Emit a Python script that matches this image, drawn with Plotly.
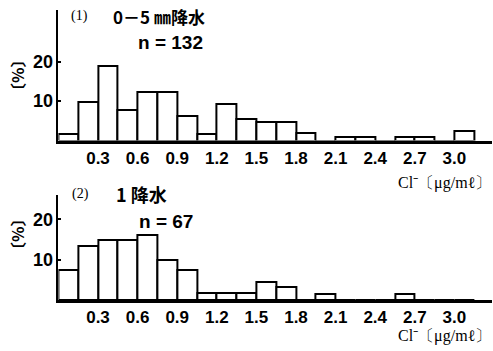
import plotly.graph_objects as go

W, H = 493, 351
bin_width = 0.15
# percentages per 0.15 µg/ml bin, starting at 0
top_pct = [1.7, 9.7, 19.0, 7.8, 12.2, 12.2, 6.2, 1.7, 9.3, 5.4, 4.7, 4.7, 1.9, 0, 1.0, 1.0, 0, 1.0, 1.0, 0, 2.5]
bot_pct = [7.4, 13.4, 14.9, 14.9, 16.2, 9.9, 7.4, 1.8, 1.8, 1.8, 4.5, 3.1, 0, 1.6, 0, 0, 0, 1.4, 0, 0, 0]
x_ticks = [0.3, 0.6, 0.9, 1.2, 1.5, 1.8, 2.1, 2.4, 2.7, 3.0]
x_labels = ["0.3", "0.6", "0.9", "1.2", "1.5", "1.8", "2.1", "2.4", "2.7", "3.0"]
y_ticks = [10, 20]

def centers(vals):
    return [bin_width * (i + 0.5) for i in range(len(vals))]

fig = go.Figure()
bar_style = dict(marker=dict(color="white", line=dict(color="black", width=2)),
                 width=bin_width, showlegend=False, hoverinfo="skip")
fig.add_trace(go.Bar(x=centers(top_pct), y=top_pct, xaxis="x", yaxis="y", **bar_style))
fig.add_trace(go.Bar(x=centers(bot_pct), y=bot_pct, xaxis="x2", yaxis="y2", **bar_style))

px0, px1 = 58.4, 492.0
xr = [0, (px1 - px0) / 132.0]
xdom = [px0 / W, px1 / W]
tickfont = dict(family="Liberation Sans", size=17, color="black", weight="bold")
xcommon = dict(range=xr, domain=xdom, tickvals=x_ticks, ticktext=x_labels, showline=True,
               linecolor="black", linewidth=2.5, showgrid=False, zeroline=False, ticks="",
               tickfont=tickfont, ticklabelstandoff=0, fixedrange=True)
ycommon = dict(tickvals=y_ticks, showline=True, linecolor="black", linewidth=1.5, showgrid=False,
               zeroline=False, ticks="inside", ticklen=3, tickcolor="black", tickwidth=1.5,
               tickfont=dict(family="Liberation Sans", size=18, color="black", weight="bold"),
               fixedrange=True)

fig.update_layout(
    width=W, height=H, margin=dict(l=0, r=0, t=0, b=0),
    paper_bgcolor="white", plot_bgcolor="white", bargap=0,
    xaxis=dict(anchor="y", **xcommon),
    yaxis=dict(anchor="x", domain=[1 - 140.5 / H, 1 - 10 / H], range=[0, 33.1], **ycommon),
    xaxis2=dict(anchor="y2", **xcommon),
    yaxis2=dict(anchor="x2", domain=[1 - 300 / H, 1 - 195 / H], range=[0, 26.0], **ycommon),
)

def ann(text, x, y, size, family="Noto Sans CJK JP", bold=True, xanchor="center", angle=0):
    fig.add_annotation(text=text, x=x / W, y=1 - y / H, xref="paper", yref="paper",
                       showarrow=False, xanchor=xanchor, yanchor="middle", textangle=angle,
                       font=dict(family=family, size=size, color="black",
                                 weight="bold" if bold else "normal"))

# panel (1)
ann("(1)", 79, 16, 14, family="Liberation Serif", bold=False)
ann("0－5 ㎜降水", 111, 16, 17, xanchor="left")
ann("n = 132", 170, 42, 19, family="Liberation Sans")
ann("〔%〕", 17, 76, 16, angle=-90)
ann("Cl⁻〔μg/mℓ〕", 493, 183, 16, family="Liberation Serif", bold=False, xanchor="right")
# panel (2)
ann("(2)", 80, 194, 14, family="Liberation Serif", bold=False)
ann("1 降水", 114, 194, 18, xanchor="left")
ann("n = 67", 166, 221, 19, family="Liberation Sans")
ann("〔%〕", 17, 235, 16, angle=-90)
ann("Cl⁻〔μg/mℓ〕", 493, 336, 16, family="Liberation Serif", bold=False, xanchor="right")

fig.write_html("out.html")
